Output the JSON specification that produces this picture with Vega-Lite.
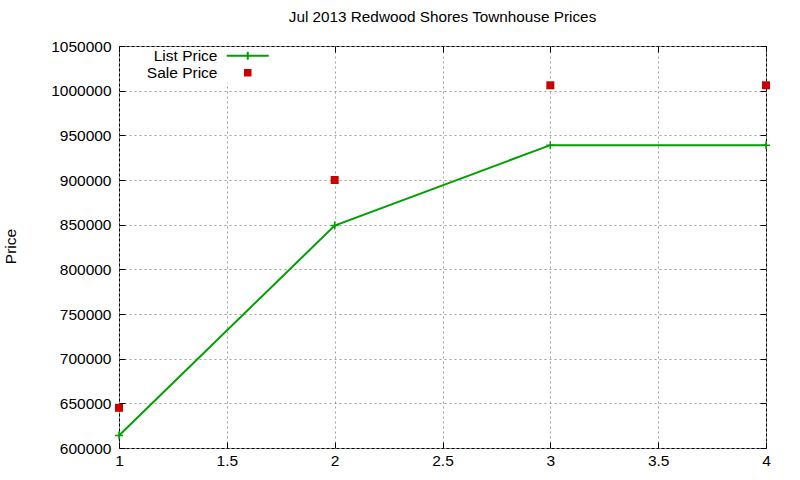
{
  "$schema": "https://vega.github.io/schema/vega-lite/v6.json",
  "width": 647,
  "height": 402,
  "autosize": {"type": "none"},
  "padding": {"left": 119, "top": 46, "right": 34, "bottom": 32},
  "background": "white",
  "config": {
    "font": "Liberation Sans",
    "view": {"stroke": "black", "strokeWidth": 1},
    "axis": {
      "labelFont": "Liberation Sans",
      "labelFontSize": 15.5,
      "labelColor": "black",
      "labelFlush": false,
      "titleFont": "Liberation Sans",
      "titleFontSize": 15.5,
      "titleFontWeight": "normal",
      "titleColor": "black",
      "domain": false,
      "tickColor": "black",
      "tickSize": -6,
      "gridColor": "#a0a0a0",
      "gridDash": [2, 3],
      "gridWidth": 1,
      "gridOpacity": 1
    }
  },
  "title": {
    "text": "Jul 2013 Redwood Shores Townhouse Prices",
    "font": "Liberation Sans",
    "fontSize": 15.3,
    "fontWeight": "normal",
    "color": "black",
    "anchor": "middle",
    "frame": "group",
    "offset": 14
  },
  "data": {
    "values": [
      {"x": 1, "price": 614000, "series": "List Price"},
      {"x": 2, "price": 849000, "series": "List Price"},
      {"x": 3, "price": 939000, "series": "List Price"},
      {"x": 4, "price": 939000, "series": "List Price"},
      {"x": 1, "price": 645000, "series": "Sale Price"},
      {"x": 2, "price": 900000, "series": "Sale Price"},
      {"x": 3, "price": 1006000, "series": "Sale Price"},
      {"x": 4, "price": 1006000, "series": "Sale Price"}
    ]
  },
  "resolve": {"axis": {"x": "independent", "y": "independent"}},
  "layer": [
    {
      "transform": [{"filter": "datum.series === 'List Price'"}],
      "mark": {"type": "line", "strokeWidth": 2},
      "encoding": {
        "x": {
          "field": "x", "type": "quantitative",
          "scale": {"domain": [1, 4], "nice": false, "zero": false},
          "axis": {"title": null, "values": [1, 1.5, 2, 2.5, 3, 3.5, 4], "format": "~g", "labelPadding": 11, "orient": "bottom"}
        },
        "y": {
          "field": "price", "type": "quantitative",
          "scale": {"domain": [600000, 1050000], "nice": false, "zero": false},
          "axis": {
            "title": "Price",
            "values": [600000, 650000, 700000, 750000, 800000, 850000, 900000, 950000, 1000000, 1050000],
            "format": "d",
            "labelPadding": 14,
            "orient": "left",
            "titleX": -109,
            "titleY": 200,
            "titleAngle": -90,
            "titleAlign": "center",
            "titleBaseline": "middle"
          }
        },
        "color": {
          "field": "series", "type": "nominal",
          "scale": {"domain": ["List Price", "Sale Price"], "range": ["#00a000", "#cc0000"]},
          "legend": {
            "title": null,
            "orient": "none",
            "legendX": 1,
            "legendY": 1,
            "padding": 1,
            "fillColor": "white",
            "direction": "vertical",
            "symbolSize": 144,
            "symbolOffset": 119,
            "labelOffset": -38,
            "labelAlign": "right",
            "labelFont": "Liberation Sans",
            "labelFontSize": 15.5,
            "labelColor": "black",
            "rowPadding": -1.5,
            "encode": {
              "symbols": {
                "update": {
                  "shape": {"signal": "datum.value === 'List Price' ? 'M-2.625,0H2.625M0,-0.5V0.5' : 'square'"},
                  "size": {"signal": "datum.value === 'List Price' ? 256 : 56"},
                  "stroke": {"signal": "datum.value === 'List Price' ? '#00a000' : '#cc0000'"},
                  "fill": {"signal": "datum.value === 'List Price' ? 'transparent' : '#cc0000'"},
                  "strokeWidth": {"signal": "datum.value === 'List Price' ? 2 : 0"},
                  "opacity": {"value": 1}
                }
              }
            }
          }
        }
      }
    },
    {
      "transform": [{"filter": "datum.series === 'List Price'"}],
      "mark": {"type": "point", "filled": false, "shape": "M-1,0H1M0,-1V1", "size": 64, "strokeWidth": 1.5, "color": "#00a000", "opacity": 1},
      "encoding": {
        "x": {"field": "x", "type": "quantitative", "axis": null},
        "y": {"field": "price", "type": "quantitative", "axis": null}
      }
    },
    {
      "transform": [{"filter": "datum.series === 'Sale Price'"}],
      "mark": {"type": "point", "filled": true, "shape": "square", "size": 64, "color": "#cc0000", "opacity": 1},
      "encoding": {
        "x": {
          "field": "x", "type": "quantitative",
          "axis": {"orient": "top", "labels": false, "grid": false, "title": null, "values": [1, 1.5, 2, 2.5, 3, 3.5, 4]}
        },
        "y": {
          "field": "price", "type": "quantitative",
          "axis": {"orient": "right", "labels": false, "grid": false, "title": null, "values": [600000, 650000, 700000, 750000, 800000, 850000, 900000, 950000, 1000000, 1050000]}
        }
      }
    }
  ]
}
